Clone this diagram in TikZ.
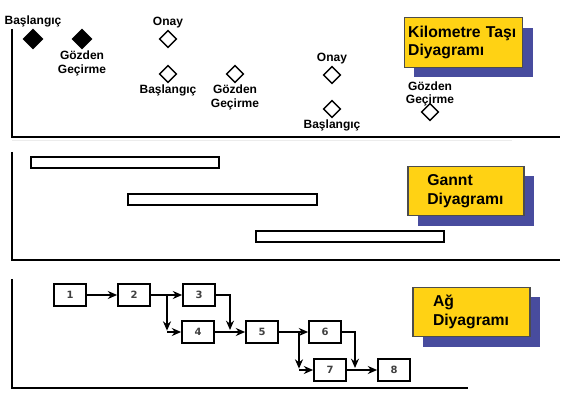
\documentclass[tikz,border=0pt]{standalone}
\usepackage{fontspec}
\setmainfont{Liberation Sans}
\newfontfamily\numfont{DejaVu Sans}
\usetikzlibrary{arrows.meta}
\usetikzlibrary{shapes.geometric}
\usetikzlibrary{shadows}
\usetikzlibrary{positioning}
\definecolor{tyellow}{RGB}{255,210,20}
\definecolor{tblue}{RGB}{72,76,158}

\begin{document}
\begin{tikzpicture}[x=0.75pt,y=-0.75pt,>={Stealth[length=7pt,width=6pt]},
		axis/.style={line width=1.4pt},
		ms/.style={diamond,draw,line width=1.1pt,inner sep=0pt,minimum size=13pt},
		msdone/.style={ms,fill=black,minimum size=14.5pt},
		lbl/.style={font=\bfseries\fontsize{9}{10}\selectfont,align=center,inner sep=1pt},
		bar/.style={draw,line width=1.3pt,fill=white},
		task/.style={draw,line width=1.3pt,minimum width=24pt,minimum height=16.5pt,inner sep=0pt,font=\numfont\bfseries\fontsize{7.5}{8}\selectfont,text=black!75},
		titlebox/.style={draw=black!70,line width=0.8pt,fill=tyellow,minimum height=37pt,align=left,font=\bfseries\fontsize{11.8}{14}\selectfont,drop shadow={shadow xshift=7.5pt,shadow yshift=-7.5pt,fill=tblue,opacity=1}},
		flow/.style={->,line width=1.3pt}]
	\useasboundingbox (0,0) rectangle (572,402);

	\draw[axis] (12,29) |- (560,137);
	\node[msdone,label={[lbl]above:Başlangıç}] (ms1) at (33,39) {};
	\node[msdone,label={[lbl]below:Gözden\\Geçirme}] (ms2) at (82,39) {};
	\node[ms,label={[lbl]above:Onay}] (ms3) at (168,39) {};
	\node[ms,label={[lbl]below:Başlangıç}] (ms4) at (168,74) {};
	\node[ms,label={[lbl]below:Gözden\\Geçirme}] (ms5) at (235,74) {};
	\node[ms,label={[lbl]above:Onay}] (ms6) at (332,75) {};
	\node[ms,label={[lbl]below:Başlangıç}] (ms7) at (332,109) {};
	\node[ms,label={[lbl,label distance=-4pt]above:Gözden\\Geçirme}] (ms8) at (430,112) {};
	\node[titlebox,text width=83pt,inner xsep=3pt,minimum width=87.75pt] (km) at (463.5,42.5) {Kilometre Taşı\\Diyagramı};

	\draw[gray!15,line width=0.8pt] (12,140.5) -- (512,140.5);
	\draw[axis] (12,152) |- (560,260);
	\draw[bar] (31,157) rectangle (219,168);
	\draw[bar] (128,194) rectangle (317,205);
	\draw[bar] (256,231) rectangle (444,242);
	\node[titlebox,text width=58pt,inner xsep=14.5pt,minimum width=87pt] (gantt) at (466,191) {Gannt\\Diyagramı};

	\draw[axis] (12,279) |- (468,388);
	\node[task] (t1) at (70,295) {1};
	\node[task] (t2) at (134,295) {2};
	\node[task] (t3) at (199,295) {3};
	\node[task] (t4) at (198,332) {4};
	\node[task] (t5) at (262,332) {5};
	\node[task] (t6) at (325,332) {6};
	\node[task] (t7) at (330,370) {7};
	\node[task] (t8) at (394,370) {8};
	\coordinate (s2) at (167,295);
	\coordinate (m45) at (230,330);
	\coordinate (s5) at (299,332);
	\coordinate (m78) at (355,368);
	\draw[flow] (t1) -- (t2);
	\draw[flow] (t2) -- (t3);
	\draw[flow] (s2) -- ([yshift=1pt]s2 |- t4);
	\draw[flow] (s2 |- t4) -- (t4);
	\draw[flow] (t3) -| (m45);
	\draw[flow] (t4) -- (t5);
	\draw[flow] (t5) -- (t6);
	\draw[flow] (s5) -- ([yshift=1pt]s5 |- t7);
	\draw[flow] (s5 |- t7) -- (t7);
	\draw[flow] (t6) -| (m78);
	\draw[flow] (t7) -- (t8);
	\node[titlebox,text width=57.75pt,inner xsep=15pt,minimum width=87.75pt] (net) at (471.5,312) {Ağ\\Diyagramı};
\end{tikzpicture}
\end{document}
